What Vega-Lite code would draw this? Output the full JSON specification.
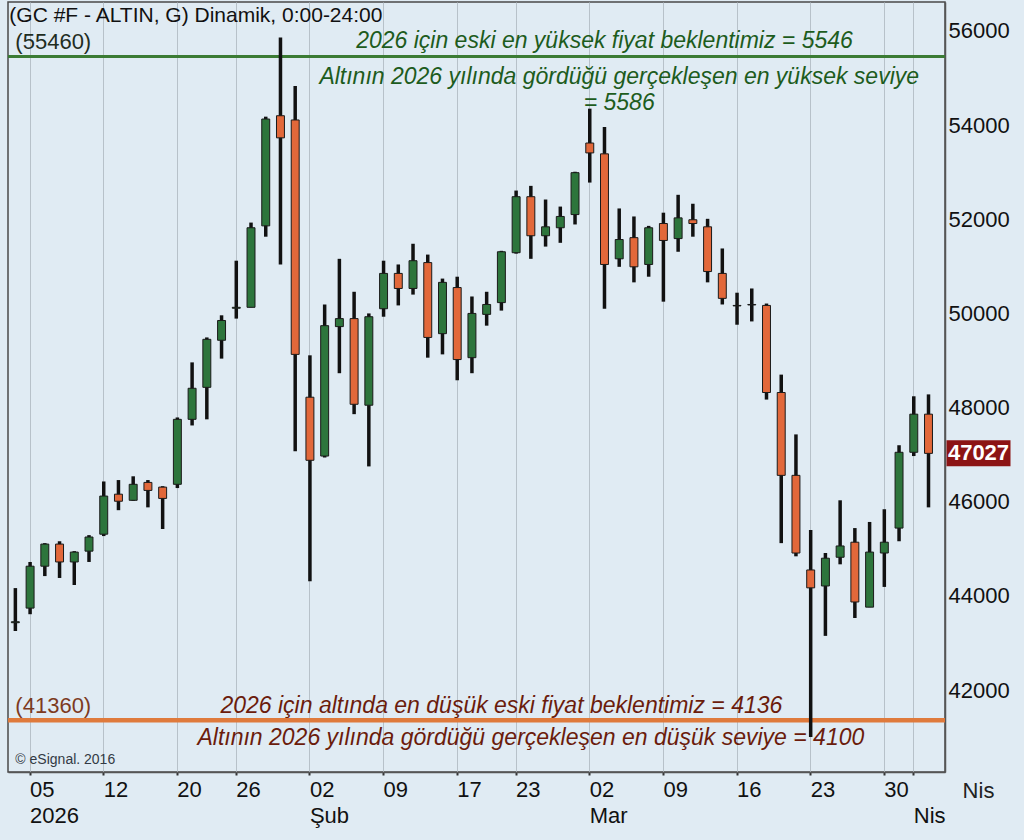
{
  "$schema": "https://vega.github.io/schema/vega-lite/v6.json",
  "width": 937,
  "height": 770,
  "autosize": {"type": "none"},
  "padding": {"left": 8, "top": 2, "right": 79, "bottom": 68},
  "background": "#e0ebf3",
  "datasets": {
    "candles": [
      {"date": "2026-01-02", "open": 43430, "high": 44165, "low": 43253, "close": 43450},
      {"date": "2026-01-05", "open": 43740, "high": 44720, "low": 43610, "close": 44630},
      {"date": "2026-01-06", "open": 44630, "high": 45120, "low": 44420, "close": 45100},
      {"date": "2026-01-07", "open": 45100, "high": 45160, "low": 44380, "close": 44720},
      {"date": "2026-01-08", "open": 44720, "high": 44950, "low": 44230, "close": 44930},
      {"date": "2026-01-09", "open": 44950, "high": 45290, "low": 44720, "close": 45250},
      {"date": "2026-01-12", "open": 45310, "high": 46430, "low": 45270, "close": 46120},
      {"date": "2026-01-13", "open": 46160, "high": 46460, "low": 45820, "close": 46010},
      {"date": "2026-01-14", "open": 46030, "high": 46540, "low": 46020, "close": 46370},
      {"date": "2026-01-15", "open": 46410, "high": 46460, "low": 45880, "close": 46240},
      {"date": "2026-01-16", "open": 46310, "high": 46330, "low": 45420, "close": 46070},
      {"date": "2026-01-20", "open": 46370, "high": 47790, "low": 46290, "close": 47750},
      {"date": "2026-01-21", "open": 47750, "high": 48960, "low": 47620, "close": 48410},
      {"date": "2026-01-22", "open": 48430, "high": 49490, "low": 47750, "close": 49450},
      {"date": "2026-01-23", "open": 49430, "high": 49960, "low": 49040, "close": 49850},
      {"date": "2026-01-26", "open": 50110, "high": 51120, "low": 49890, "close": 50130},
      {"date": "2026-01-27", "open": 50130, "high": 51930, "low": 50130, "close": 51820},
      {"date": "2026-01-28", "open": 51860, "high": 54180, "low": 51630, "close": 54130},
      {"date": "2026-01-29", "open": 54200, "high": 55860, "low": 51040, "close": 53730},
      {"date": "2026-01-30", "open": 54110, "high": 54830, "low": 47070, "close": 49130},
      {"date": "2026-02-02", "open": 48220, "high": 49110, "low": 44310, "close": 46880},
      {"date": "2026-02-03", "open": 46970, "high": 50190, "low": 46940, "close": 49740},
      {"date": "2026-02-04", "open": 49720, "high": 51160, "low": 48730, "close": 49890},
      {"date": "2026-02-05", "open": 49890, "high": 50460, "low": 47860, "close": 48070},
      {"date": "2026-02-06", "open": 48050, "high": 50000, "low": 46750, "close": 49930},
      {"date": "2026-02-09", "open": 50100, "high": 51120, "low": 49930, "close": 50850},
      {"date": "2026-02-10", "open": 50850, "high": 51040, "low": 50170, "close": 50530},
      {"date": "2026-02-11", "open": 50530, "high": 51480, "low": 50400, "close": 51120},
      {"date": "2026-02-12", "open": 51080, "high": 51250, "low": 49060, "close": 49490},
      {"date": "2026-02-13", "open": 49570, "high": 50740, "low": 49130, "close": 50660},
      {"date": "2026-02-17", "open": 50550, "high": 50780, "low": 48580, "close": 49020},
      {"date": "2026-02-18", "open": 49060, "high": 50360, "low": 48730, "close": 50000},
      {"date": "2026-02-19", "open": 49980, "high": 50460, "low": 49740, "close": 50190},
      {"date": "2026-02-20", "open": 50230, "high": 51330, "low": 50060, "close": 51310},
      {"date": "2026-02-23", "open": 51290, "high": 52610, "low": 51270, "close": 52480},
      {"date": "2026-02-24", "open": 52480, "high": 52710, "low": 51160, "close": 51650},
      {"date": "2026-02-25", "open": 51650, "high": 52420, "low": 51420, "close": 51840},
      {"date": "2026-02-26", "open": 51820, "high": 52270, "low": 51500, "close": 52060},
      {"date": "2026-02-27", "open": 52100, "high": 53010, "low": 51890, "close": 52990},
      {"date": "2026-03-02", "open": 53620, "high": 54350, "low": 52780, "close": 53410},
      {"date": "2026-03-03", "open": 53390, "high": 53960, "low": 50100, "close": 51040},
      {"date": "2026-03-04", "open": 51160, "high": 52230, "low": 50990, "close": 51570},
      {"date": "2026-03-05", "open": 51610, "high": 52060, "low": 50660, "close": 50990},
      {"date": "2026-03-06", "open": 51040, "high": 51860, "low": 50780, "close": 51820},
      {"date": "2026-03-09", "open": 51910, "high": 52140, "low": 50250, "close": 51550},
      {"date": "2026-03-10", "open": 51590, "high": 52520, "low": 51310, "close": 52030},
      {"date": "2026-03-11", "open": 51990, "high": 52330, "low": 51630, "close": 51910},
      {"date": "2026-03-12", "open": 51840, "high": 52010, "low": 50660, "close": 50890},
      {"date": "2026-03-13", "open": 50850, "high": 51380, "low": 50190, "close": 50320},
      {"date": "2026-03-16", "open": 50160, "high": 50440, "low": 49760, "close": 50170},
      {"date": "2026-03-17", "open": 50180, "high": 50530, "low": 49830, "close": 50190},
      {"date": "2026-03-18", "open": 50170, "high": 50210, "low": 48170, "close": 48320},
      {"date": "2026-03-19", "open": 48320, "high": 48700, "low": 45120, "close": 46560},
      {"date": "2026-03-20", "open": 46560, "high": 47430, "low": 44840, "close": 44910},
      {"date": "2026-03-23", "open": 44550, "high": 45400, "low": 41000, "close": 44170},
      {"date": "2026-03-24", "open": 44210, "high": 44910, "low": 43150, "close": 44800},
      {"date": "2026-03-25", "open": 44820, "high": 46030, "low": 44670, "close": 45060},
      {"date": "2026-03-26", "open": 45140, "high": 45440, "low": 43530, "close": 43870},
      {"date": "2026-03-27", "open": 43760, "high": 45570, "low": 43760, "close": 44930},
      {"date": "2026-03-30", "open": 44910, "high": 45840, "low": 44190, "close": 45140},
      {"date": "2026-03-31", "open": 45440, "high": 47200, "low": 45160, "close": 47050},
      {"date": "2026-04-01", "open": 47050, "high": 48240, "low": 46970, "close": 47860},
      {"date": "2026-04-02", "open": 47860, "high": 48280, "low": 45880, "close": 47027}
    ]
  },
  "layer": [
    {
      "data": {"values": [{"level": 55460}]},
      "mark": {"type": "rule", "color": "#3b7b34", "strokeWidth": 3},
      "encoding": {"y": {"field": "level", "type": "quantitative", "title": null}}
    },
    {
      "data": {"values": [{"level": 41360}]},
      "mark": {"type": "rule", "color": "#df7a3c", "strokeWidth": 4.5},
      "encoding": {"y": {"field": "level", "type": "quantitative", "title": null}}
    },
    {
      "data": {"name": "candles"},
      "mark": {"type": "rule", "color": "#111111", "strokeWidth": 3.5},
      "encoding": {
        "x": {
          "field": "date",
          "type": "ordinal",
          "title": null,
          "scale": {"paddingInner": 0, "paddingOuter": 0.31, "align": 0},
          "axis": {
            "values": ["2026-01-05", "2026-01-12", "2026-01-20", "2026-01-26", "2026-02-02", "2026-02-09", "2026-02-17", "2026-02-23", "2026-03-02", "2026-03-09", "2026-03-16", "2026-03-23", "2026-03-30", "2026-04-01"],
            "labelExpr": "datum.value == '2026-01-05' ? ['05', '2026'] : datum.value == '2026-02-02' ? ['02', 'Şub'] : datum.value == '2026-03-02' ? ['02', 'Mar'] : datum.value == '2026-04-01' ? ['', 'Nis'] : substring(datum.value, 8, 10)",
            "title": null,
            "labelAngle": 0,
            "labelAlign": "left",
            "labelBaseline": "top",
            "labelPadding": 4,
            "labelFontSize": 22,
            "labelLineHeight": 26,
            "labelColor": "#111111",
            "labelOverlap": false,
            "labelFlush": false,
            "grid": true,
            "gridColor": "#b7c1c9",
            "gridWidth": 1,
            "domainColor": "#555555",
            "domainWidth": 1.5,
            "tickSize": 3,
            "tickWidth": 2,
            "tickColor": "#333333"
          }
        },
        "y": {
          "field": "low",
          "type": "quantitative",
          "title": null,
          "scale": {"domain": [40258, 56616], "nice": false, "zero": false},
          "axis": {
            "orient": "right",
            "title": null,
            "values": [42000, 44000, 46000, 48000, 50000, 52000, 54000, 56000],
            "format": "d",
            "grid": false,
            "ticks": false,
            "labelPadding": 3,
            "labelFontSize": 22,
            "labelColor": "#111111",
            "labelAlign": "left",
            "labelBaseline": "middle",
            "domainColor": "#555555",
            "domainWidth": 1.5
          }
        },
        "y2": {"field": "high"}
      }
    },
    {
      "data": {"name": "candles"},
      "mark": {"type": "bar", "width": {"band": 0.54}, "stroke": "#1a1a1a", "strokeWidth": 1},
      "encoding": {
        "x": {"field": "date", "type": "ordinal", "title": null},
        "y": {"field": "open", "type": "quantitative", "title": null},
        "y2": {"field": "close"},
        "fill": {"condition": {"test": "datum.close >= datum.open", "value": "#2d753c"}, "value": "#e2683a"}
      }
    },
    {
      "data": {"values": [{"date": "2026-01-02", "price": 56319, "label": "(GC #F - ALTIN, G) Dinamik, 0:00-24:00"}]},
      "mark": {"type": "text", "align": "left", "baseline": "middle", "dx": -6, "fontSize": 21, "color": "#111111"},
      "encoding": {
        "x": {"field": "date", "type": "ordinal", "title": null},
        "y": {"field": "price", "type": "quantitative", "title": null},
        "text": {"field": "label"}
      }
    },
    {
      "data": {"values": [{"date": "2026-01-02", "price": 55766, "label": "(55460)"}]},
      "mark": {"type": "text", "align": "left", "baseline": "middle", "fontSize": 22, "color": "#1f2d1f"},
      "encoding": {
        "x": {"field": "date", "type": "ordinal", "title": null},
        "y": {"field": "price", "type": "quantitative", "title": null},
        "text": {"field": "label"}
      }
    },
    {
      "data": {"values": [{"date": "2026-01-02", "price": 41650, "label": "(41360)"}]},
      "mark": {"type": "text", "align": "left", "baseline": "middle", "fontSize": 22, "color": "#7d3a1e"},
      "encoding": {
        "x": {"field": "date", "type": "ordinal", "title": null},
        "y": {"field": "price", "type": "quantitative", "title": null},
        "text": {"field": "label"}
      }
    },
    {
      "data": {"values": [
        {"date": "2026-03-03", "price": 55780, "label": "2026 için eski en yüksek fiyat beklentimiz = 5546"},
        {"date": "2026-03-04", "price": 55023, "label": "Altının 2026 yılında gördüğü gerçekleşen en yüksek seviye"},
        {"date": "2026-03-04", "price": 54470, "label": "= 5586"}
      ]},
      "mark": {"type": "text", "align": "center", "baseline": "middle", "fontSize": 23, "fontStyle": "italic", "color": "#1d5c1d"},
      "encoding": {
        "x": {"field": "date", "type": "ordinal", "title": null},
        "y": {"field": "price", "type": "quantitative", "title": null},
        "text": {"field": "label"}
      }
    },
    {
      "data": {"values": [
        {"date": "2026-02-20", "price": 41660, "label": "2026 için altında en düşük eski fiyat beklentimiz = 4136"},
        {"date": "2026-02-24", "price": 40980, "label": "Altının 2026 yılında gördüğü gerçekleşen en düşük seviye = 4100"}
      ]},
      "mark": {"type": "text", "align": "center", "baseline": "middle", "fontSize": 23, "fontStyle": "italic", "color": "#6b1c0c"},
      "encoding": {
        "x": {"field": "date", "type": "ordinal", "title": null},
        "y": {"field": "price", "type": "quantitative", "title": null},
        "text": {"field": "label"}
      }
    },
    {
      "data": {"values": [{"date": "2026-01-02", "price": 40513, "label": "© eSignal. 2016"}]},
      "mark": {"type": "text", "align": "left", "baseline": "middle", "fontSize": 14, "color": "#333a44"},
      "encoding": {
        "x": {"field": "date", "type": "ordinal", "title": null},
        "y": {"field": "price", "type": "quantitative", "title": null},
        "text": {"field": "label"}
      }
    },
    {
      "data": {"name": "candles"},
      "transform": [{"filter": "datum.date == '2026-04-02'"}],
      "mark": {"type": "tick", "size": 64, "thickness": 26, "xOffset": 50, "color": "#8c1414", "opacity": 1, "clip": false},
      "encoding": {
        "x": {"field": "date", "type": "ordinal", "title": null},
        "y": {"field": "close", "type": "quantitative", "title": null}
      }
    },
    {
      "data": {"name": "candles"},
      "transform": [{"filter": "datum.date == '2026-04-02'"}],
      "mark": {"type": "text", "dx": 50, "align": "center", "baseline": "middle", "fontSize": 22, "fontWeight": "bold", "color": "#ffffff", "clip": false},
      "encoding": {
        "x": {"field": "date", "type": "ordinal", "title": null},
        "y": {"field": "close", "type": "quantitative", "title": null},
        "text": {"field": "close", "type": "quantitative", "format": "d"}
      }
    },
    {
      "data": {"values": [{"date": "2026-04-02", "price": 39850, "label": "Nis"}]},
      "mark": {"type": "text", "dx": 50, "align": "center", "baseline": "middle", "fontSize": 22, "color": "#222222", "clip": false},
      "encoding": {
        "x": {"field": "date", "type": "ordinal", "title": null},
        "y": {"field": "price", "type": "quantitative", "title": null},
        "text": {"field": "label"}
      }
    }
  ],
  "config": {
    "font": "Liberation Sans",
    "view": {"stroke": "#4a4a4a", "strokeWidth": 1.5}
  }
}
